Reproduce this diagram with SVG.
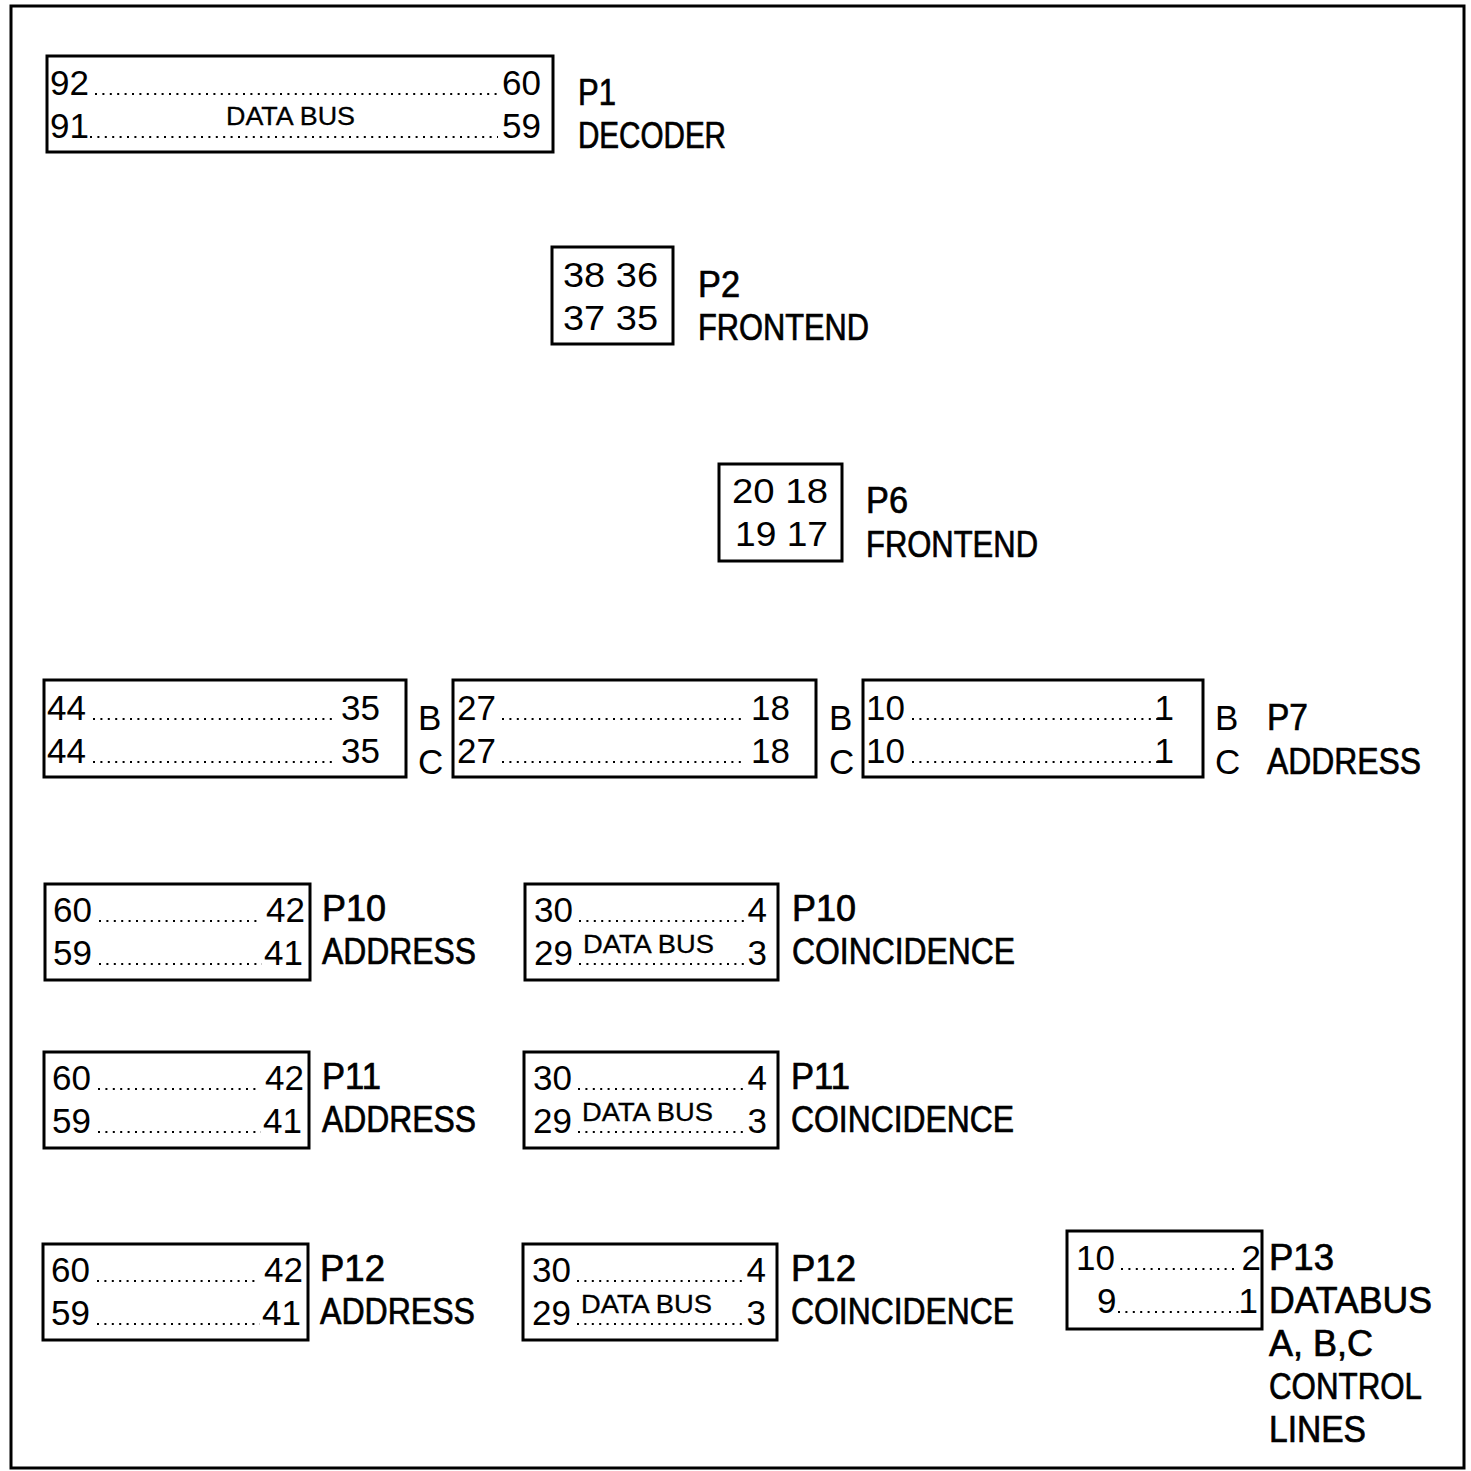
<svg xmlns="http://www.w3.org/2000/svg" width="1471" height="1471" viewBox="0 0 1471 1471">
<style>
.box{fill:none;stroke:#000;stroke-width:3}
.num{font-family:"Liberation Sans",Arial,sans-serif;font-size:35px;fill:#000}
.end{text-anchor:end}
.lbl{font-family:"Liberation Sans",Arial,sans-serif;font-size:36px;fill:#000;stroke:#000;stroke-width:0.7}
.bus{font-family:"Liberation Sans",Arial,sans-serif;font-size:25px;fill:#000;stroke:#000;stroke-width:0.3}
.dots{stroke:#000;stroke-width:2;stroke-dasharray:2 5.4;fill:none}
</style>
<rect width="1471" height="1471" fill="#fff"/>
<rect id="frame" x="11" y="6" width="1453" height="1462" class="box"/>

<g id="P1">
<rect x="47" y="56" width="506" height="96" class="box"/>
<text class="num" x="50" y="95">92</text><text class="num end" x="541" y="95">60</text>
<line class="dots" x1="95" y1="94" x2="498" y2="94"/>
<text class="num" x="50" y="138">91</text><text class="num end" x="541" y="138">59</text>
<line class="dots" x1="90" y1="137" x2="498" y2="137"/>
<text class="bus" x="226" y="125" textLength="129" lengthAdjust="spacingAndGlyphs">DATA BUS</text>
<text class="lbl" x="578" y="105" textLength="38" lengthAdjust="spacingAndGlyphs">P1</text>
<text class="lbl" x="578" y="148" textLength="148" lengthAdjust="spacingAndGlyphs">DECODER</text>
</g>

<g id="P2">
<rect x="552" y="247" width="121" height="97" class="box"/>
<text class="num" x="563" y="287" textLength="95" lengthAdjust="spacingAndGlyphs">38 36</text>
<text class="num" x="563" y="330" textLength="95" lengthAdjust="spacingAndGlyphs">37 35</text>
<text class="lbl" x="698" y="297" textLength="42" lengthAdjust="spacingAndGlyphs">P2</text>
<text class="lbl" x="698" y="340" textLength="171" lengthAdjust="spacingAndGlyphs">FRONTEND</text>
</g>

<g id="P6">
<rect x="719" y="464" width="123" height="97" class="box"/>
<text class="num" x="732" y="503" textLength="96" lengthAdjust="spacingAndGlyphs">20 18</text>
<text class="num" x="735" y="546" textLength="93" lengthAdjust="spacingAndGlyphs">19 17</text>
<text class="lbl" x="866" y="513" textLength="42" lengthAdjust="spacingAndGlyphs">P6</text>
<text class="lbl" x="866" y="557" textLength="172" lengthAdjust="spacingAndGlyphs">FRONTEND</text>
</g>

<g id="P7">
<rect x="44" y="680" width="362" height="97" class="box"/>
<text class="num" x="47" y="720">44</text><text class="num end" x="380" y="720">35</text>
<line class="dots" x1="93" y1="719" x2="335" y2="719"/>
<text class="num" x="47" y="763">44</text><text class="num end" x="380" y="763">35</text>
<line class="dots" x1="93" y1="762" x2="335" y2="762"/>
<text class="num" x="418" y="730">B</text><text class="num" x="418" y="774">C</text>

<rect x="453" y="680" width="363" height="97" class="box"/>
<text class="num" x="457" y="720">27</text><text class="num end" x="790" y="720">18</text>
<line class="dots" x1="502" y1="719" x2="746" y2="719"/>
<text class="num" x="457" y="763">27</text><text class="num end" x="790" y="763">18</text>
<line class="dots" x1="502" y1="762" x2="746" y2="762"/>
<text class="num" x="829" y="730">B</text><text class="num" x="829" y="774">C</text>

<rect x="863" y="680" width="340" height="97" class="box"/>
<text class="num" x="866" y="720">10</text><text class="num end" x="1174" y="720">1</text>
<line class="dots" x1="912" y1="719" x2="1158" y2="719"/>
<text class="num" x="866" y="763">10</text><text class="num end" x="1174" y="763">1</text>
<line class="dots" x1="912" y1="762" x2="1158" y2="762"/>
<text class="num" x="1215" y="730">B</text><text class="num" x="1215" y="774">C</text>

<text class="lbl" x="1267" y="730" textLength="41" lengthAdjust="spacingAndGlyphs">P7</text>
<text class="lbl" x="1267" y="774" textLength="154" lengthAdjust="spacingAndGlyphs">ADDRESS</text>
</g>

<g id="P10-ADDRESS">
<rect x="45" y="884" width="265" height="96" class="box"/>
<text class="num" x="53" y="922">60</text><text class="num end" x="305" y="922">42</text>
<line class="dots" x1="99" y1="921" x2="260" y2="921"/>
<text class="num" x="53" y="965">59</text><text class="num end" x="303" y="965">41</text>
<line class="dots" x1="99" y1="964" x2="262" y2="964"/>
<text class="lbl" x="322" y="921" textLength="64" lengthAdjust="spacingAndGlyphs">P10</text>
<text class="lbl" x="322" y="964" textLength="154" lengthAdjust="spacingAndGlyphs">ADDRESS</text>
</g>

<g id="P10-COINCIDENCE">
<rect x="525" y="884" width="253" height="96" class="box"/>
<text class="num" x="534" y="922">30</text><text class="num end" x="767" y="922">4</text>
<line class="dots" x1="579" y1="921" x2="745" y2="921"/>
<text class="num" x="534" y="965">29</text><text class="num end" x="767" y="965">3</text>
<line class="dots" x1="579" y1="964" x2="745" y2="964"/>
<text class="bus" x="583" y="953" textLength="131" lengthAdjust="spacingAndGlyphs">DATA BUS</text>
<text class="lbl" x="792" y="921" textLength="64" lengthAdjust="spacingAndGlyphs">P10</text>
<text class="lbl" x="792" y="964" textLength="223" lengthAdjust="spacingAndGlyphs">COINCIDENCE</text>
</g>

<g id="P11-ADDRESS">
<rect x="44" y="1052" width="265" height="96" class="box"/>
<text class="num" x="52" y="1090">60</text><text class="num end" x="304" y="1090">42</text>
<line class="dots" x1="98" y1="1089" x2="259" y2="1089"/>
<text class="num" x="52" y="1133">59</text><text class="num end" x="302" y="1133">41</text>
<line class="dots" x1="98" y1="1132" x2="261" y2="1132"/>
<text class="lbl" x="322" y="1089" textLength="59" lengthAdjust="spacingAndGlyphs">P11</text>
<text class="lbl" x="322" y="1132" textLength="154" lengthAdjust="spacingAndGlyphs">ADDRESS</text>
</g>

<g id="P11-COINCIDENCE">
<rect x="524" y="1052" width="254" height="96" class="box"/>
<text class="num" x="533" y="1090">30</text><text class="num end" x="767" y="1090">4</text>
<line class="dots" x1="578" y1="1089" x2="745" y2="1089"/>
<text class="num" x="533" y="1133">29</text><text class="num end" x="767" y="1133">3</text>
<line class="dots" x1="578" y1="1132" x2="745" y2="1132"/>
<text class="bus" x="582" y="1121" textLength="131" lengthAdjust="spacingAndGlyphs">DATA BUS</text>
<text class="lbl" x="791" y="1089" textLength="59" lengthAdjust="spacingAndGlyphs">P11</text>
<text class="lbl" x="791" y="1132" textLength="223" lengthAdjust="spacingAndGlyphs">COINCIDENCE</text>
</g>

<g id="P12-ADDRESS">
<rect x="43" y="1244" width="265" height="96" class="box"/>
<text class="num" x="51" y="1282">60</text><text class="num end" x="303" y="1282">42</text>
<line class="dots" x1="97" y1="1281" x2="258" y2="1281"/>
<text class="num" x="51" y="1325">59</text><text class="num end" x="301" y="1325">41</text>
<line class="dots" x1="97" y1="1324" x2="260" y2="1324"/>
<text class="lbl" x="320" y="1281" textLength="65" lengthAdjust="spacingAndGlyphs">P12</text>
<text class="lbl" x="320" y="1324" textLength="155" lengthAdjust="spacingAndGlyphs">ADDRESS</text>
</g>

<g id="P12-COINCIDENCE">
<rect x="523" y="1244" width="254" height="96" class="box"/>
<text class="num" x="532" y="1282">30</text><text class="num end" x="766" y="1282">4</text>
<line class="dots" x1="577" y1="1281" x2="744" y2="1281"/>
<text class="num" x="532" y="1325">29</text><text class="num end" x="766" y="1325">3</text>
<line class="dots" x1="577" y1="1324" x2="744" y2="1324"/>
<text class="bus" x="581" y="1313" textLength="131" lengthAdjust="spacingAndGlyphs">DATA BUS</text>
<text class="lbl" x="791" y="1281" textLength="65" lengthAdjust="spacingAndGlyphs">P12</text>
<text class="lbl" x="791" y="1324" textLength="223" lengthAdjust="spacingAndGlyphs">COINCIDENCE</text>
</g>

<g id="P13">
<rect x="1067" y="1231" width="195" height="98" class="box"/>
<text class="num" x="1076" y="1270">10</text><text class="num end" x="1261" y="1270">2</text>
<line class="dots" x1="1121" y1="1269" x2="1238" y2="1269"/>
<text class="num" x="1097" y="1313">9</text><text class="num end" x="1258" y="1313">1</text>
<line class="dots" x1="1118" y1="1312" x2="1240" y2="1312"/>
<text class="lbl" x="1269" y="1270" textLength="65" lengthAdjust="spacingAndGlyphs">P13</text>
<text class="lbl" x="1269" y="1313" textLength="163" lengthAdjust="spacingAndGlyphs">DATABUS</text>
<text class="lbl" x="1269" y="1356" textLength="104" lengthAdjust="spacingAndGlyphs">A, B,C</text>
<text class="lbl" x="1269" y="1399" textLength="153" lengthAdjust="spacingAndGlyphs">CONTROL</text>
<text class="lbl" x="1269" y="1442" textLength="97" lengthAdjust="spacingAndGlyphs">LINES</text>
</g>

<g id="connectors"/>
</svg>
